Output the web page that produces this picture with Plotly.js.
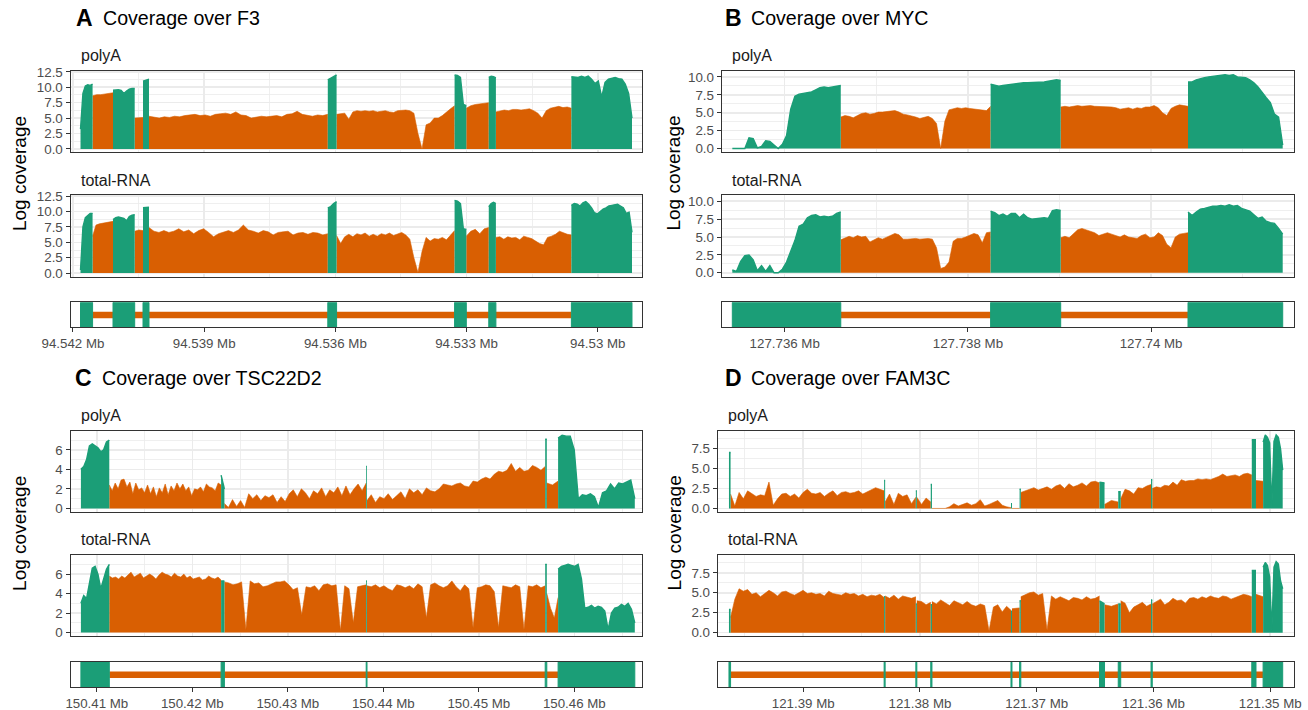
<!DOCTYPE html>
<html>
<head>
<meta charset="utf-8">
<script src="https://cdn.plot.ly/plotly-3.0.1.min.js"></script>
<style>html,body{margin:0;padding:0;background:#fff}#chart{width:1308px;height:710px}</style>
</head>
<body>
<div id="chart"></div>
<script>
// ---------------- DATA ----------------
const letters = ['A', 'B', 'C', 'D'];
const titles = ['Coverage over F3', 'Coverage over MYC', 'Coverage over TSC22D2', 'Coverage over FAM3C'];
const trackNames = ['polyA', 'total-RNA'];
const yTitle = 'Log coverage';

// exon coordinates (Mb)
const F3_exonStart = [94.529217, 94.532329, 94.533006, 94.535972, 94.540262, 94.540589, 94.541552];
const F3_exonEnd   = [94.530603, 94.532492, 94.533274, 94.536173, 94.540399, 94.541085, 94.541828];
const MYC_exonStart = [127.735428, 127.738248, 127.740403];
const MYC_exonEnd   = [127.736612, 127.739013, 127.741437];
const TSC_exonStart = [150.408335, 150.423016, 150.438209, 150.456953, 150.458304];
const TSC_exonEnd   = [150.411309, 150.423361, 150.438293, 150.457120, 150.466335];
const FAM_exonStart = [121.348929, 121.351217, 121.360103, 121.362802, 121.364190, 121.371362, 121.372117, 121.378972, 121.380266, 121.382982, 121.396221];
const FAM_exonEnd   = [121.350608, 121.351577, 121.360206, 121.363016, 121.364619, 121.371465, 121.372202, 121.379075, 121.380351, 121.383068, 121.396358];

// x tick values / labels
const F3_xTicks = [94.542, 94.539, 94.536, 94.533, 94.53];
const F3_xLabels = ['94.542 Mb', '94.539 Mb', '94.536 Mb', '94.533 Mb', '94.53 Mb'];
const MYC_xTicks = [127.736, 127.738, 127.74];
const MYC_xLabels = ['127.736 Mb', '127.738 Mb', '127.74 Mb'];
const TSC_xTicks = [150.41, 150.42, 150.43, 150.44, 150.45, 150.46];
const TSC_xLabels = ['150.41 Mb', '150.42 Mb', '150.43 Mb', '150.44 Mb', '150.45 Mb', '150.46 Mb'];
const FAM_xTicks = [121.39, 121.38, 121.37, 121.36, 121.35];
const FAM_xLabels = ['121.39 Mb', '121.38 Mb', '121.37 Mb', '121.36 Mb', '121.35 Mb'];

// y tick values / labels
const F3_yTicks = [0, 2.5, 5, 7.5, 10, 12.5];
const F3_yLabels = ['0.0', '2.5', '5.0', '7.5', '10.0', '12.5'];
const MYC_yTicks = [0, 2.5, 5, 7.5, 10];
const MYC_yLabels = ['0.0', '2.5', '5.0', '7.5', '10.0'];
const TSC_yTicks = [0, 2, 4, 6];
const TSC_yLabels = ['0', '2', '4', '6'];
const FAM_yTicks = [0, 2.5, 5, 7.5];
const FAM_yLabels = ['0.0', '2.5', '5.0', '7.5'];

// coverage (log), per segment in left-to-right order: exon, intron, exon, ...
const F3_polyA = [
  [3.2, 9.0, 10.2, 10.4, 10.3, 10.5],
  [8.6, 8.8, 8.8, 8.9, 9.0, 9.1],
  [9.5, 9.6, 9.6, 9.5, 9.0, 9.4, 9.7, 9.8, 9.8],
  [5.0, 5.0, 5.1],
  [11.0, 11.2, 11.3],
  [5.3,5.2,5.0,5.2,5.1,5.3,5.2,5.4,5.5,5.6,5.4,5.5,5.3,5.6,5.7,5.8,5.6,6.0,5.5,5.4,5.0,5.2,5.3,5.2,5.3,5.4,5.2,5.6,5.7,6.1,5.6,5.4,5.3,5.5,5.4,5.6],
  [11.2, 11.5, 11.8, 12.0],
  [5.6,5.7,5.8,4.8,6.0,6.2,6.1,6.2,6.1,6.2,6.0,6.1,6.2,6.0,5.9,6.2,6.3,6.3,6.2,5.8,2.5,0.0,3.9,4.2,5.0,5.0,5.4,6.0,6.5,7.0],
  [12.0, 11.9, 11.6, 7.2, 7.0],
  [6.6, 7.0, 7.2, 7.3, 7.4, 7.5],
  [11.6, 11.8, 11.7, 11.5],
  [6.0,6.2,6.3,6.2,6.4,6.4,6.3,6.4,6.5,6.2,5.8,5.0,6.2,6.6,6.8,6.9,6.7,6.8,6.6],
  [11.7,11.7,11.6,11.8,11.6,11.8,11.3,10.6,11.0,8.4,10.8,11.3,11.5,11.6,11.4,11.3,10.5,9.0,5.0]
];
const F3_total = [
  [0.5, 7.5, 9.0, 9.4, 9.7, 9.7],
  [6.0, 7.8, 8.0, 8.1, 8.2, 8.3, 8.4],
  [8.7, 9.0, 9.1, 9.0, 8.9, 8.5, 9.2, 9.4, 9.5],
  [6.8, 7.0, 6.9],
  [10.6, 10.7, 10.7],
  [7.4,6.8,6.6,6.9,6.6,6.8,7.2,6.7,7.0,6.4,6.9,7.2,6.6,5.9,6.4,6.7,6.9,6.6,7.0,7.8,7.0,6.8,6.5,6.9,6.7,6.2,6.6,6.7,6.8,6.2,6.5,6.6,6.3,6.6,6.5,6.2,6.4],
  [10.6, 10.8, 11.3, 11.6],
  [6.1,4.8,5.9,6.3,5.9,6.4,6.2,6.5,6.0,6.3,6.0,6.4,6.2,6.5,6.1,6.3,6.6,6.2,5.5,2.5,0.1,3.5,5.8,5.2,5.6,5.5,5.8,5.4,6.1,6.9],
  [11.8, 11.7, 11.3, 7.2, 7.1],
  [6.0, 6.8, 7.1, 6.4, 7.2, 7.4],
  [10.8, 11.3, 11.5, 11.3],
  [5.8,5.9,5.5,5.9,5.7,5.8,5.4,6.0,5.8,5.6,5.2,4.8,4.6,5.8,6.0,6.3,6.8,6.5,6.3,6.2],
  [11.0,11.3,11.2,10.9,11.4,11.6,11.2,10.6,9.8,9.6,10.0,10.4,10.6,10.9,11.0,11.1,11.2,10.9,10.6,9.7,9.9,6.6]
];
const MYC_polyA = [
  [0,0,0,0,1.5,1.4,0.1,0.3,1.1,1.0,0.5,0,0.6,1.8,5.5,7.3,7.6,7.7,7.9,7.9,8.2,8.5,8.6,8.5,8.6,8.7,8.8],
  [4.4,4.6,4.5,4.3,4.6,4.9,5.0,4.8,4.9,5.1,5.1,5.2,5.3,5.3,5.1,4.8,4.7,4.6,4.4,4.2,4.4,4.5,4.2,3.5,0,3.8,5.4,5.6,5.7,5.6,5.7,5.6,5.5,5.4,5.3,5.3,5.9],
  [9.0,8.8,8.7,8.8,8.9,9.0,9.1,9.1,9.2,9.2,9.2,9.3,9.3,9.3,9.4,9.5,9.6,9.5],
  [5.8,5.9,5.8,5.9,6.0,5.9,6.0,6.0,5.9,5.9,5.8,5.9,5.8,5.7,5.5,5.6,5.7,5.5,5.7,5.6,5.8,5.8,6.0,5.7,5.0,4.6,5.6,5.9,6.1,6.0,5.9],
  [9.3,9.3,9.6,9.8,9.9,10.0,10.1,10.2,10.3,10.3,10.2,10.3,10.0,10.0,9.9,9.6,9.2,8.6,7.8,7.1,6.4,4.8,4.4,0.5]
];
const MYC_total = [
  [0.4,0.2,1.6,2.4,2.5,1.8,0.3,1.0,0.2,1.0,0,0,0.5,1.5,3.0,4.5,6.5,6.8,7.7,8.0,8.1,7.8,7.9,7.8,7.9,8.3,8.5],
  [4.6,4.9,5.1,4.9,5.2,5.0,5.1,4.3,4.6,4.9,4.7,5.0,5.3,5.5,5.3,4.7,4.7,4.8,4.8,4.7,4.8,4.8,4.7,3.5,0.6,0.8,1.5,4.4,4.8,4.8,5.0,5.3,5.5,5.3,4.2,5.6,5.7],
  [8.6,8.4,8.0,8.2,7.9,8.3,8.3,7.7,8.2,7.7,7.5,7.6,7.7,7.7,7.6,8.7,8.8,8.7],
  [4.9,5.1,4.9,5.5,6.0,6.2,6.0,5.8,5.6,5.2,5.4,5.6,5.4,5.2,5.0,5.3,5.0,4.9,4.8,5.2,5.4,4.9,5.0,5.6,5.2,4.0,3.5,5.0,5.4,5.5,5.6],
  [8.5,8.0,8.5,8.9,9.0,9.2,9.3,9.3,9.4,9.3,9.5,9.3,9.4,9.0,8.8,8.6,8.1,7.6,7.8,7.2,7.0,6.9,6.2,5.4]
];
const TSC_polyA = [
  [4.0,4.3,5.0,6.4,6.6,6.4,6.2,5.8,6.0,6.8,7.0],
  [2.4,1.8,2.6,2.0,2.9,3.0,2.2,2.7,1.5,2.6,1.9,2.1,1.6,2.4,1.5,2.2,1.2,2.1,1.6,2.5,1.4,2.3,1.8,2.6,2.0,2.5,1.8,2.2,1.3,2.0,1.9,2.2,1.7,2.5,2.2,2.1,1.8,2.6,2.4],
  [3.4, 2.0],
  [0.5,0.1,0.9,0.2,0.8,0.1,1.5,1.0,1.4,0.8,1.3,1.1,1.4,0.6,1.2,0.7,1.5,1.9,1.2,2.0,1.6,1.0,1.8,1.5,2.1,1.2,1.9,1.6,2.2,1.3,2.3,1.4,2.0,2.5,1.8,2.6],
  [4.3, 4.3],
  [0.8,1.4,0.6,1.2,1.0,1.5,0.9,1.3,1.7,1.0,2.0,1.6,1.9,1.4,2.1,1.8,1.7,2.0,2.5,2.4,2.3,2.5,2.6,2.3,2.2,2.8,2.7,3.0,3.2,3.0,3.5,3.8,3.7,3.9,4.6,3.8,4.2,3.8,3.9,4.4,4.2,3.9,4.3],
  [7.1, 7.1],
  [2.6, 2.4, 2.8],
  [7.2,7.5,7.4,7.4,6.0,1.0,1.4,1.3,1.5,1.2,0.1,1.6,1.8,2.5,2.0,2.6,2.5,2.7,2.9,1.0]
];
const TSC_total = [
  [3.0,3.8,3.5,5.0,6.6,6.8,6.0,4.5,5.5,6.5,7.0],
  [5.8,5.6,5.7,5.5,5.8,5.6,5.9,6.2,5.7,5.9,6.1,5.6,5.8,6.0,5.8,5.5,5.9,6.2,6.0,5.9,5.7,6.1,5.8,5.7,6.0,5.6,5.8,5.5,5.6,5.7,5.4,5.5,5.8,5.6,5.5,5.7,5.4],
  [5.3, 5.3],
  [5.2,5.1,4.9,5.0,5.2,0.3,5.3,5.0,5.1,4.7,4.8,5.0,5.2,5.2,5.3,4.9,4.4,4.6,1.8,4.7,4.6,4.8,4.3,4.9,5.0,4.8,4.9,0.2,4.8,4.5,1.0,4.7,4.8,4.9],
  [5.3, 5.3],
  [4.8,4.7,4.9,4.6,4.8,4.5,4.3,4.9,4.8,4.6,4.8,4.5,5.0,4.7,1.5,4.9,5.1,4.8,4.6,4.8,5.3,4.7,4.3,4.9,4.5,0.5,4.6,4.7,4.9,4.8,4.2,0.5,4.8,4.7,4.6,4.9,4.7,0.3,4.8,4.7,4.9,4.6,4.8],
  [7.0, 7.0],
  [4.0, 2.5, 1.5, 3.6],
  [6.5,6.8,6.9,7.0,6.9,6.8,7.0,5.5,2.5,2.6,2.8,2.5,2.7,2.6,2.2,0.3,2.0,2.5,2.6,2.9,2.7,3.0,2.4,1.0]
];
const FAM_polyA = [
  [7.0, 7.0],
  [1.8,0.3,2.0,1.2,2.2,1.8,1.5,1.7,1.6,3.3,0.4,1.2,1.8,1.9,1.5,1.8,1.3,2.0,2.4,1.9,1.8,2.0,1.5,1.9,2.2,1.6,2.0,2.1,1.9,2.0,2.2,1.8,2.1,2.3,2.6,2.4,2.2],
  [3.5, 3.5],
  [0.8, 1.8, 0.5, 1.9, 1.5, 1.7, 0.6, 1.4],
  [2.2, 2.2],
  [1.4, 0.5, 1.3, 0.8],
  [3.0, 3.0],
  [0,0,0,0,0.2,0.6,0.3,0.5,0.7,0.4,0.6,1.1,0.3,0.5,0.8,1.0,0.4,0.2,0.1],
  [0.6, 0.6],
  [0, 0],
  [2.4, 2.4],
  [2.0,2.2,2.4,2.6,2.3,2.5,2.7,2.4,2.8,3.0,2.5,3.1,2.7,2.9,3.2,2.8,3.3,3.4,3.2],
  [3.3, 3.2],
  [0.5, 1.0, 0.8],
  [2.1, 2.1],
  [1.2, 2.4, 2.2, 1.8, 2.6, 2.5, 2.8, 3.0],
  [3.6, 3.6],
  [2.5,2.7,2.6,2.9,2.8,3.3,2.9,3.6,3.4,3.5,3.5,3.7,3.6,3.7,3.6,3.8,4.0,4.3,4.0,4.1,4.2,4.0,4.3,4.4,4.2],
  [8.6, 8.6],
  [3.5, 3.4],
  [8.3, 9.2, 8.9, 8.2, 0.2, 8.4, 9.2, 8.9, 7.5, 4.8]
];
const FAM_total = [
  [2.9, 2.9],
  [1.9,4.2,5.5,5.2,5.4,4.8,5.0,4.5,4.9,5.3,5.0,4.6,5.1,5.2,4.9,4.7,5.0,5.3,4.9,5.0,4.8,4.9,4.6,5.2,4.9,4.8,4.7,5.0,4.8,4.9,4.6,4.8,4.5,4.7,4.6,4.8,4.4],
  [4.5, 4.5],
  [4.6, 4.3, 4.7, 4.2, 4.6, 4.4, 4.3, 4.5],
  [3.6, 3.6],
  [4.0, 3.9, 3.5, 3.8],
  [3.5, 3.5],
  [3.9,3.6,4.1,3.8,3.4,4.0,3.7,3.5,3.9,3.5,3.3,3.6,3.4,0.2,3.2,3.5,2.6,3.3,2.8],
  [2.7, 2.7],
  [3.0, 3.1],
  [4.0, 4.0],
  [4.5,4.8,5.0,5.1,4.7,4.9,0.3,4.6,4.2,4.5,4.3,4.0,4.4,4.3,4.1,4.5,4.2,4.3,4.6],
  [4.0, 3.6],
  [3.5, 3.3, 3.6],
  [3.6, 3.6],
  [4.0, 3.7, 2.5, 3.2, 3.5, 3.8, 3.3, 3.6],
  [4.1, 4.1],
  [3.6,3.9,4.2,3.5,3.8,4.3,4.0,4.1,3.7,4.3,4.4,4.2,4.5,4.3,4.6,4.4,4.3,4.6,4.5,4.2,4.4,4.6,4.8,4.7,4.5],
  [7.8, 7.8],
  [4.8, 4.5],
  [8.2, 8.8, 8.4, 7.0, 0.3, 8.2, 8.9, 8.6, 6.5, 5.5]
];

// ---------------- STYLE / LAYOUT ----------------
const W = 1308, H = 710;
const EXON = '#1b9e77', INTRON = '#d95f02';
const FONT = '"Liberation Sans", Arial, Helvetica, sans-serif';
const px = v => v / W;
const py = v => 1 - v / H;

const panels = [
  {exS: F3_exonStart, exE: F3_exonEnd, cov: [F3_polyA, F3_total], xt: F3_xTicks, xl: F3_xLabels, yt: F3_yTicks, yl: F3_yLabels,
   reversed: true, xRange: [94.542057, 94.528988], yRange: [-0.55, 12.68],
   box: [70.5, 642], top: 0, letterX: 74, titleDX: 26.5, yTitleX: 19.5},
  {exS: MYC_exonStart, exE: MYC_exonEnd, cov: [MYC_polyA, MYC_total], xt: MYC_xTicks, xl: MYC_xLabels, yt: MYC_yTicks, yl: MYC_yLabels,
   reversed: false, xRange: [127.735312, 127.741557], yRange: [-0.52, 10.87],
   box: [721.7, 1293.7], top: 0, letterX: 723.5, titleDX: 25, yTitleX: 674},
  {exS: TSC_exonStart, exE: TSC_exonEnd, cov: [TSC_polyA, TSC_total], xt: TSC_xTicks, xl: TSC_xLabels, yt: TSC_yTicks, yl: TSC_yLabels,
   reversed: false, xRange: [150.407246, 150.467089], yRange: [-0.38, 7.98],
   box: [70.5, 642], top: 359.8, letterX: 73, titleDX: 26.5, yTitleX: 19.5},
  {exS: FAM_exonStart, exE: FAM_exonEnd, cov: [FAM_polyA, FAM_total], xt: FAM_xTicks, xl: FAM_xLabels, yt: FAM_yTicks, yl: FAM_yLabels,
   reversed: true, xRange: [121.397323, 121.347987], yRange: [-0.46, 9.76],
   box: [717.7, 1293.7], top: 359.8, letterX: 723.5, titleDX: 25, yTitleX: 674}
];
// row pixel extents (relative to panel top)
const rows = [[70.7, 152.3], [195, 276.5], [302.3, 327.3]];

function buildSegments(starts, ends, reversed) {
  const pairs = starts.map((s, i) => [s, ends[i]]).sort((a, b) => a[0] - b[0]);
  if (reversed) pairs.reverse();
  const segs = [];
  pairs.forEach((p, i) => {
    const l = reversed ? p[1] : p[0];
    const r = reversed ? p[0] : p[1];
    if (i > 0) segs.push({kind: 'intron', l: segs[segs.length - 1].r, r: l});
    segs.push({kind: 'exon', l: l, r: r});
  });
  return segs;
}
function midpoints(t) {
  const out = [];
  for (let i = 0; i < t.length - 1; i++) out.push((t[i] + t[i + 1]) / 2);
  const step = t[1] - t[0];
  out.unshift(t[0] - step / 2);
  out.push(t[t.length - 1] + step / 2);
  return out;
}

const data = [];
const layout = {
  width: W, height: H, autosize: false,
  margin: {l: 0, r: 0, t: 0, b: 0},
  paper_bgcolor: '#ffffff', plot_bgcolor: '#ffffff',
  showlegend: false, hovermode: false,
  font: {family: FONT, color: '#4d4d4d', size: 13.3},
  shapes: [], annotations: []
};

panels.forEach((P, p) => {
  const segs = buildSegments(P.exS, P.exE, P.reversed);
  for (let t = 0; t < 3; t++) {
    const n = p * 3 + t + 1;
    const xa = 'xaxis' + (n === 1 ? '' : n), ya = 'yaxis' + (n === 1 ? '' : n);
    const xr = 'x' + (n === 1 ? '' : n), yr = 'y' + (n === 1 ? '' : n);
    const yTop = P.top + rows[t][0], yBot = P.top + rows[t][1];
    const isGene = t === 2;
    layout[xa] = {
      domain: [px(P.box[0]), px(P.box[1])], range: P.xRange, anchor: yr,
      tickmode: 'array', tickvals: P.xt, ticktext: P.xl,
      showticklabels: isGene, ticks: isGene ? 'outside' : '', ticklen: 4, tickwidth: 1, tickcolor: '#333333',
      tickfont: {family: FONT, size: 13.3, color: '#4d4d4d'},
      showgrid: !isGene, gridcolor: '#ebebeb', gridwidth: 1.5,
      minor: {tickmode: 'array', tickvals: midpoints(P.xt), showgrid: !isGene, gridcolor: '#ebebeb', gridwidth: 0.8, ticks: ''},
      showline: true, mirror: true, linecolor: '#333333', linewidth: 1,
      zeroline: false, fixedrange: true
    };
    layout[ya] = isGene ? {
      domain: [py(yBot), py(yTop)], range: [0, 1], anchor: xr,
      showticklabels: false, ticks: '', showgrid: false, zeroline: false,
      showline: true, mirror: true, linecolor: '#333333', linewidth: 1, fixedrange: true
    } : {
      domain: [py(yBot), py(yTop)], range: P.yRange, anchor: xr,
      tickmode: 'array', tickvals: P.yt, ticktext: P.yl,
      ticks: 'outside', ticklen: 4, tickwidth: 1, tickcolor: '#333333',
      tickfont: {family: FONT, size: 13.4, color: '#4d4d4d'},
      showgrid: true, gridcolor: '#ebebeb', gridwidth: 1.5,
      minor: {tickmode: 'array', tickvals: midpoints(P.yt), showgrid: true, gridcolor: '#ebebeb', gridwidth: 0.8, ticks: ''},
      showline: true, mirror: true, linecolor: '#333333', linewidth: 1,
      zeroline: false, fixedrange: true
    };

    if (!isGene) {
      const cov = P.cov[t];
      const intr = [], exo = [];
      segs.forEach((s, k) => {
        const v = cov[k];
        let xs, ys;
        if (v.length === 1) { xs = [s.l, s.r]; ys = [v[0], v[0]]; }
        else { xs = v.map((_, i) => s.l + (s.r - s.l) * i / (v.length - 1)); ys = v.slice(); }
        const col = s.kind === 'exon' ? EXON : INTRON;
        const tr = {
          type: 'scatter', mode: 'lines', x: xs, y: ys, xaxis: xr, yaxis: yr,
          fill: 'tozeroy', fillcolor: col,
          line: {color: col, width: s.kind === 'exon' ? 1.4 : 0.6, shape: 'linear'},
          hoverinfo: 'skip', showlegend: false
        };
        (s.kind === 'exon' ? exo : intr).push(tr);
      });
      intr.forEach(d => data.push(d));
      exo.forEach(d => data.push(d));
      // strip label
      layout.annotations.push({
        xref: 'paper', yref: 'paper', x: px(P.box[0] + 8), y: py(yTop - 15),
        xanchor: 'left', yanchor: 'middle', showarrow: false,
        text: trackNames[t], font: {family: FONT, size: 16, color: '#1a1a1a'}
      });
    } else {
      const exons = segs.filter(s => s.kind === 'exon');
      const first = exons[0], last = exons[exons.length - 1];
      layout.shapes.push({
        type: 'rect', xref: xr, yref: yr, x0: first.r, x1: last.l, y0: 0.36, y1: 0.625,
        fillcolor: INTRON, line: {width: 0}, layer: 'below'
      });
      exons.forEach(e => layout.shapes.push({
        type: 'rect', xref: xr, yref: yr, x0: e.l, x1: e.r, y0: 0, y1: 1,
        fillcolor: EXON, line: {color: EXON, width: 1}, layer: 'below'
      }));
    }
  }
  // panel title
  layout.annotations.push({
    xref: 'paper', yref: 'paper', x: px(P.letterX), y: py(P.top + 18.5),
    xanchor: 'left', yanchor: 'middle', showarrow: false,
    text: '<b>' + letters[p] + '</b>', font: {family: FONT, size: 23, color: '#000000'}
  });
  layout.annotations.push({
    xref: 'paper', yref: 'paper', x: px(P.letterX + P.titleDX), y: py(P.top + 18.5),
    xanchor: 'left', yanchor: 'middle', showarrow: false,
    text: titles[p], font: {family: FONT, size: 19.6, color: '#000000'}
  });
  // y axis title
  layout.annotations.push({
    xref: 'paper', yref: 'paper', x: px(P.yTitleX), y: py(P.top + (rows[0][0] + rows[1][1]) / 2),
    xanchor: 'center', yanchor: 'middle', showarrow: false, textangle: -90,
    text: yTitle, font: {family: FONT, size: 19, color: '#000000'}
  });
});

Plotly.newPlot('chart', data, layout, {displayModeBar: false, staticPlot: true});
</script>
</body>
</html>
